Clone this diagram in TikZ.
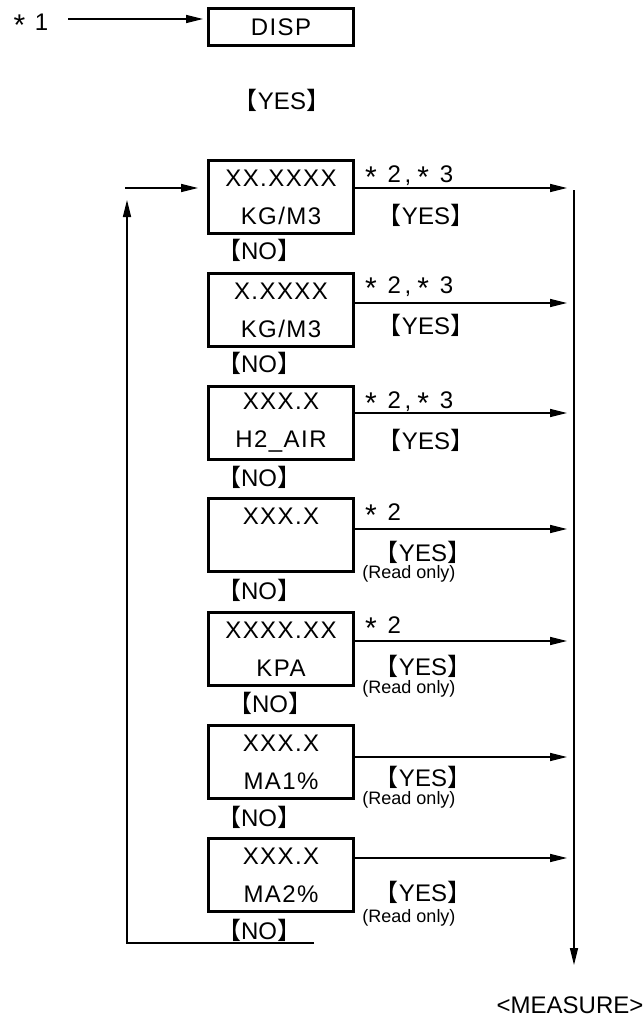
\documentclass[tikz,border=0pt]{standalone}
\usepackage{fontspec}
\setmainfont{Liberation Sans}
\newfontfamily\boxfont{Liberation Sans}[LetterSpace=6]
\newfontfamily\cjk{Noto Sans CJK JP}
\usetikzlibrary{arrows.meta}
\newcommand{\lbr}[1]{{\cjk 【}#1{\cjk 】}}
\newcommand{\mystar}{\raisebox{-5pt}{\fontsize{30}{30}\selectfont *}}
\newcommand{\startwo}{\mystar\hspace{0.45em}2\hspace{0.15em},\hspace{0.25em}\mystar\hspace{0.45em}3}
\tikzset{
  disp/.style={draw, line width=3pt, minimum width=145pt, minimum height=73pt,
    inner sep=0pt, align=center, font=\boxfont\fontsize{24}{38}\selectfont},
  lbl/.style={font=\fontsize{24}{27}\selectfont, inner sep=0pt},
  small/.style={font=\fontsize{18}{20}\selectfont, inner sep=0pt},
  flow/.style={line width=1.5pt, -{Triangle[length=17pt,width=8pt]}},
  line/.style={line width=1.5pt},
}
\begin{document}
\begin{tikzpicture}[x=1pt,y=-1pt]
\useasboundingbox (0,0) rectangle (642,1019);
\node[lbl] (s1) at (31,25) {\mystar\hspace{0.4em}1};
\node[disp, minimum height=37pt] (d) at (281,27) {DISP};
\coordinate (a1) at (68,19);
\draw[flow, shorten >=4pt] (a1) -- (a1 -| d.west);
\node[lbl] (y0) at (282,100) {\lbr{YES}};

\node[disp] (b1) at (281,197) {XX.XXXX\\KG/M3};
\node[disp] (b2) at (281,310) {X.XXXX\\KG/M3};
\node[disp] (b3) at (281,423) {XXX.X\\H2\_AIR};
\node[disp] (b4) at (281,535) {XXX.X\\\phantom{X}};
\node[disp] (b5) at (281,649) {XXXX.XX\\KPA};
\node[disp] (b6) at (281,762) {XXX.X\\MA1\%};
\node[disp] (b7) at (281,875) {XXX.X\\MA2\%};

\node[lbl] (n1) at (259,250) {\lbr{NO}};
\node[lbl] (n2) at (259,363) {\lbr{NO}};
\node[lbl] (n3) at (259,477) {\lbr{NO}};
\node[lbl] (n4) at (259,590) {\lbr{NO}};
\node[lbl] (n5) at (270,703) {\lbr{NO}};
\node[lbl] (n6) at (259,817) {\lbr{NO}};
\node[lbl] (n7) at (259,930) {\lbr{NO}};

\node[lbl, anchor=west] (k1) at (365,177) {\startwo};
\node[lbl, anchor=west] (k2) at (365,288) {\startwo};
\node[lbl, anchor=west] (k3) at (365,403) {\startwo};
\node[lbl, anchor=west] (k4) at (365,515) {\mystar\hspace{0.45em}2};
\node[lbl, anchor=west] (k5) at (365,628) {\mystar\hspace{0.45em}2};

\node[lbl] (y1) at (426,215) {\lbr{YES}};
\node[lbl] (y2) at (426,325) {\lbr{YES}};
\node[lbl] (y3) at (426,440) {\lbr{YES}};
\node[lbl] (y4) at (423,552) {\lbr{YES}};
\node[lbl] (y5) at (423,666) {\lbr{YES}};
\node[lbl] (y6) at (423,777) {\lbr{YES}};
\node[lbl] (y7) at (423,892) {\lbr{YES}};
\node[small] (r4) at (409,574) {(Read only)};
\node[small] (r5) at (409,689) {(Read only)};
\node[small] (r6) at (409,800) {(Read only)};
\node[small] (r7) at (409,918) {(Read only)};

\coordinate (rt) at (574,190);
\coordinate (rb) at (574,965);
\draw[flow, shorten >=7pt] (b1.east |- 0,188) -- (rt |- 0,188);
\draw[flow, shorten >=7pt] (b2.east |- 0,303) -- (rt |- 0,303);
\draw[flow, shorten >=7pt] (b3.east |- 0,413) -- (rt |- 0,413);
\draw[flow, shorten >=7pt] (b4.east |- 0,529) -- (rt |- 0,529);
\draw[flow, shorten >=7pt] (b5.east |- 0,641) -- (rt |- 0,641);
\draw[flow, shorten >=7pt] (b6.east |- 0,757) -- (rt |- 0,757);
\draw[flow, shorten >=7pt] (b7.east |- 0,858) -- (rt |- 0,858);
\draw[flow] (rt) -- (rb);
\node[lbl] (m) at (570,1005) {<MEASURE>};

\coordinate (en) at (125,188);
\draw[flow, shorten >=9pt] (en) -- (b1.west |- en);
\coordinate (le) at (314,943);
\coordinate (lb) at (127,943);
\draw[flow] (le) -- (lb) -- (lb |- 0,200);
\end{tikzpicture}
\end{document}
